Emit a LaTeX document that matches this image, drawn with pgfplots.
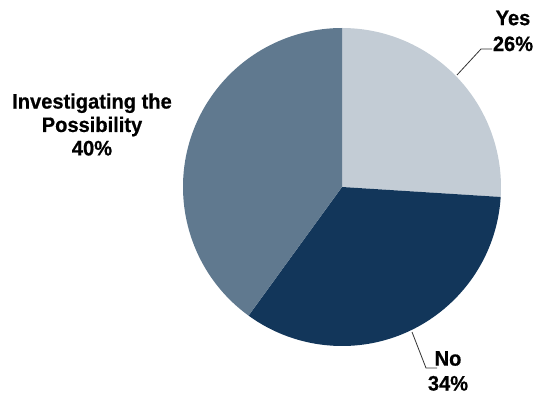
\documentclass[border=0pt]{standalone}
\usepackage{pgfplots}
\usepackage{pgfplotstable}
\pgfplotsset{compat=1.18}
\usepackage{fontspec}
\setmainfont{Liberation Sans}[BoldFeatures={FakeStretch=0.96,FakeBold=0.6}]
\definecolor{yescol}{HTML}{C3CCD5}
\definecolor{nocol}{HTML}{12365A}
\definecolor{invcol}{HTML}{60798F}

\pgfplotstableread{
label value
Yes 26
No 34
Investigating 40
}\piedata

\begin{document}
\begin{tikzpicture}
\pgfplotstablegetelem{0}{value}\of\piedata \let\vYes\pgfplotsretval
\pgfplotstablegetelem{1}{value}\of\piedata \let\vNo\pgfplotsretval
\pgfplotstablegetelem{2}{value}\of\piedata \let\vInv\pgfplotsretval
\pgfmathsetmacro{\aA}{90}
\pgfmathsetmacro{\aB}{90-3.6*\vYes}
\pgfmathsetmacro{\aC}{\aB-3.6*\vNo}
\pgfmathsetmacro{\aD}{\aC-3.6*\vInv}
\begin{axis}[
  scale only axis, width=537bp, height=395bp,
  xmin=0, xmax=537, ymin=0, ymax=395,
  hide axis, clip=false,
]
\path (axis cs:0,0) rectangle (axis cs:537,395);
\fill[yescol] (axis cs:342,208) -- ++(\aA:159bp) arc[start angle=\aA, end angle=\aB, radius=159bp] -- cycle;
\fill[nocol] (axis cs:342,208) -- ++(\aB:159bp) arc[start angle=\aB, end angle=\aC, radius=159bp] -- cycle;
\fill[invcol] (axis cs:342,208) -- ++(\aC:159bp) arc[start angle=\aC, end angle=\aD, radius=159bp] -- cycle;
% leader lines
\draw[black!80, line width=0.8pt] (axis cs:457,320) -- (axis cs:481,346) -- (axis cs:492,346);
\draw[black!80, line width=0.8pt] (axis cs:412,63) -- (axis cs:426,27) -- (axis cs:437,27);
% labels
\node[align=center, font=\fontsize{21}{26}\selectfont\bfseries, inner sep=0pt] at (axis cs:513,364) {Yes\\26\%};
\node[align=center, font=\fontsize{21}{25}\selectfont\bfseries, inner sep=0pt] at (axis cs:448,24) {No\\34\%};
\node[align=center, font=\fontsize{21}{23.5}\selectfont\bfseries, inner sep=0pt] at (axis cs:92,270.5) {Investigating the\\Possibility\\40\%};
\end{axis}
\end{tikzpicture}
\end{document}
